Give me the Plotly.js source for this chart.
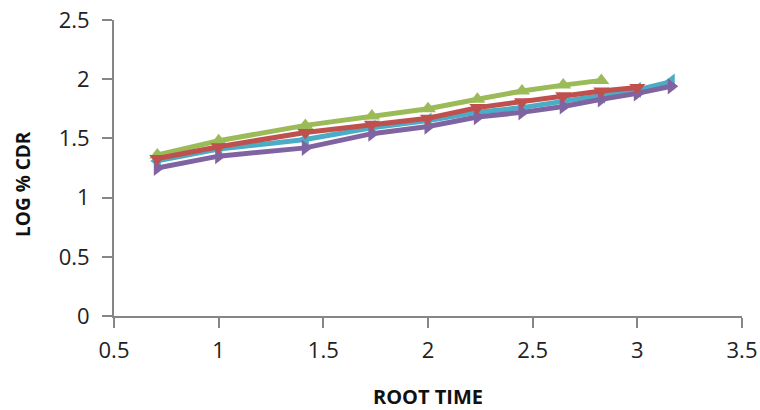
<!DOCTYPE html>
<html>
<head>
<meta charset="utf-8">
<script src="https://cdn.plot.ly/plotly-3.0.1.min.js"></script>
<style>
  html, body { margin: 0; padding: 0; background: #fff; }
  #chart { width: 760px; height: 410px; }
</style>
</head>
<body>
<div id="chart"></div>
<script>
// root time values (sqrt of hours)
let rootTime = [0.707, 1, 1.414, 1.732, 2, 2.236, 2.449, 2.646, 2.828, 3, 3.162];

// log % cumulative drug release, one array per formulation
let cyanSeries   = [1.31, 1.41, 1.49, 1.59, 1.65, 1.72, 1.76, 1.81, 1.86, 1.91, 1.98];
let purpleSeries = [1.25, 1.35, 1.42, 1.54, 1.60, 1.68, 1.72, 1.77, 1.83, 1.88, 1.94];
let redSeries    = [1.33, 1.43, 1.55, 1.62, 1.67, 1.76, 1.81, 1.86, 1.90, 1.93];
let greenSeries  = [1.36, 1.48, 1.61, 1.69, 1.75, 1.83, 1.90, 1.95, 1.99];

let xTicks = [0.5, 1, 1.5, 2, 2.5, 3, 3.5];
let yTicks = [0, 0.5, 1, 1.5, 2, 2.5];

function series(y, color, symbol){
    return {
        type: 'scatter', mode: 'lines+markers',
        x: rootTime.slice(0, y.length), y: y,
        line: {color: color, width: 5},
        marker: {symbol: symbol, size: 14, color: color},
        showlegend: false, hoverinfo: 'skip'
    };
}

var data = [
    series(cyanSeries, '#4BACC6', 'triangle-left'),
    series(purpleSeries, '#8064A2', 'triangle-right'),
    series(greenSeries, '#9BBB59', 'triangle-up'),
    series(redSeries, '#C0504D', 'triangle-down'),
];

var axisFont = {family: 'Open Sans, sans-serif', size: 22, color: '#222'};
var titleFont = {family: 'Open Sans, sans-serif', size: 20, color: '#111', weight: 'bold'};

var layout = {
    width: 760, height: 410,
    margin: {l: 114, r: 18, t: 20, b: 94},
    paper_bgcolor: '#fff', plot_bgcolor: '#fff',
    xaxis: {
        range: [0.5, 3.5], tickvals: xTicks, ticktext: xTicks.map(String),
        showgrid: false, zeroline: false,
        showline: true, linecolor: '#868686', linewidth: 2,
        ticks: 'outside', ticklen: 10, tickwidth: 2, tickcolor: '#868686',
        tickfont: axisFont, ticklabelstandoff: 4,
        title: {text: 'ROOT TIME', font: titleFont, standoff: 28}
    },
    yaxis: {
        range: [0, 2.5], tickvals: yTicks, ticktext: yTicks.map(String),
        showgrid: false, zeroline: false,
        showline: true, linecolor: '#868686', linewidth: 2,
        ticks: 'outside', ticklen: 10, tickwidth: 2, tickcolor: '#868686',
        tickfont: axisFont, ticklabelstandoff: 8
    },
    // y title sits a little below the plot centre in the original
    annotations: [{
        text: 'LOG % CDR', textangle: -90, showarrow: false,
        xref: 'paper', yref: 'paper', x: -0.145, y: 0.446,
        xanchor: 'center', yanchor: 'middle',
        font: {family: 'Open Sans, sans-serif', size: 19, color: '#111', weight: 'bold'}
    }],
    hovermode: false
};

Plotly.newPlot('chart', data, layout, {displayModeBar: false, staticPlot: true});
</script>
</body>
</html>
